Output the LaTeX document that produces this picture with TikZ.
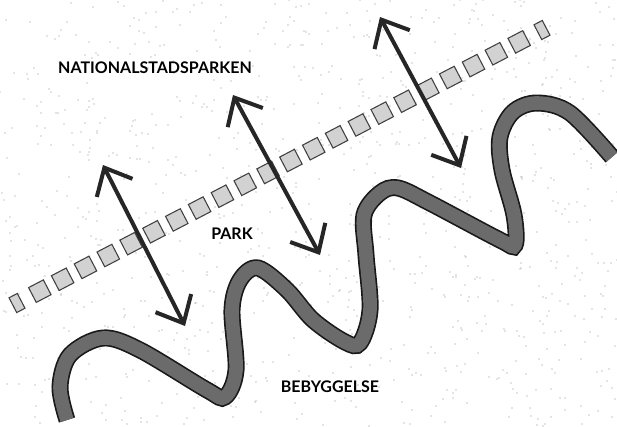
\documentclass[tikz,border=0pt]{standalone}
\usepackage{fontspec}
\newfontfamily\mapfont{Lato}
\usetikzlibrary{calc}
\usetikzlibrary{arrows.meta}

\begin{document}
\begin{tikzpicture}[x=0.75pt, y=-0.75pt,
			tile/.style = {draw=black!75, line width=0.8pt, fill=gray!35, minimum size=12.5pt, inner sep=0pt, rotate=27.5},
			zone/.style = {font=\mapfont\bfseries\fontsize{12}{12}\selectfont, text=black, inner sep=0pt},
			span/.style = {draw=black!85, line width=3pt, {Straight Barb[length=17pt,width=30pt]}-{Straight Barb[length=17pt,width=30pt]}},
			speck/.style = {fill=black!45}
			]
			\useasboundingbox (0,0) rectangle (617,426);
			\fill[white] (0,0) rectangle (617,426);
			
			% halftone specks
			\pgfmathsetseed{4711}
			\foreach \i in {1,...,1000}{
				\pgfmathsetmacro\sx{random(0,617)}
				\pgfmathsetmacro\sy{random(0,426)}
				\fill[speck] (\sx,\sy) circle (0.4pt);
			}
			
			% row of tiles
			\coordinate (tilesw) at (17,303);
			\coordinate (tilene) at (542,30);
			\node[tile, minimum width=7pt] (sq0) at (tilesw) {};
			\foreach \k in {1,...,22}
				\node[tile] (sq\k) at ($(tilesw)!\k/23!(tilene)$) {};
			\node[tile, minimum width=7pt] (sq23) at (tilene) {};
			
			% built-up edge
			\draw[line width=10.25pt, black!58, preaction={draw, line width=12.75pt, black!90}]
				plot[smooth, tension=0.55] coordinates {(67,420) (60,387) (70,355) (103,338) (140,350) (207,390) (225,397) (236,370) (232,310) (240,280) (258,268) (287,290) (313,320) (345,342) (360,343) (370,310) (366,255) (364,215) (380,193) (398,188) (430,203) (500,240) (515,245) (514,215) (502,170) (500,137) (513,112) (537,103) (570,113) (612,157)};
			
			\node[zone] (nsp) at (155,68) {NATIONALSTADSPARKEN};
			\node[zone] (park) at (232,234) {PARK};
			\node[zone] (beb) at (330,387) {BEBYGGELSE};
			
			\coordinate (a1n) at (103,165);
			\coordinate (a1s) at (185,326);
			\coordinate (a2n) at (233,95);
			\coordinate (a2s) at (320,255);
			\coordinate (a3n) at (380,17);
			\coordinate (a3s) at (461,168);
			\draw[span] (a1n) -- (a1s);
			\draw[span] (a2n) -- (a2s);
			\draw[span] (a3n) -- (a3s);
		\end{tikzpicture}
\end{document}
